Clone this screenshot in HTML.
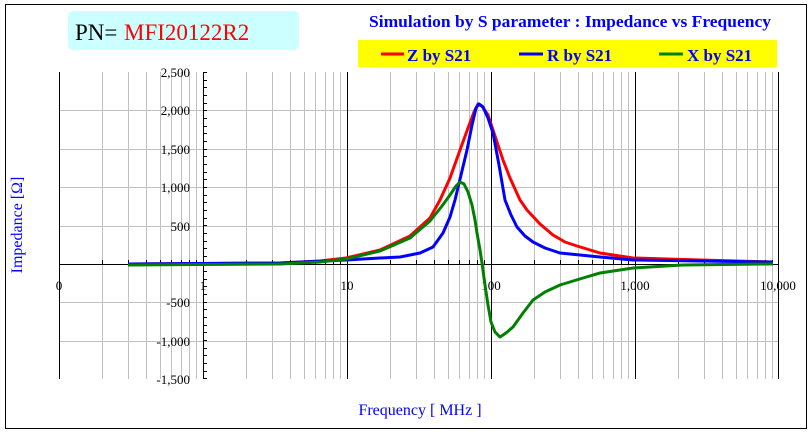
<!DOCTYPE html>
<html><head><meta charset="utf-8"><style>
body{margin:0;background:#fff;}
svg{display:block;font-family:"Liberation Serif",serif;}
</style></head><body>
<svg width="811" height="432" viewBox="0 0 811 432" xmlns="http://www.w3.org/2000/svg">
<rect x="5.5" y="4.5" width="801" height="424" fill="#fff" stroke="#000" stroke-width="1"/>
<rect x="68" y="11" width="231" height="39" rx="5" fill="#ccffff"/>
<text x="75" y="40" font-size="23" fill="#000">PN=</text>
<text x="124" y="40" font-size="23" fill="#ff0000">MFI20122R2</text>
<text x="570" y="27" font-size="17" font-weight="bold" fill="#0000ff" text-anchor="middle" textLength="402" lengthAdjust="spacingAndGlyphs">Simulation by S parameter : Impedance vs Frequency</text>
<rect x="358" y="40" width="419" height="27" fill="#ffff00"/>
<line x1="381" y1="54" x2="404" y2="54" stroke="#f00" stroke-width="3"/>
<text x="407" y="61" font-size="17" font-weight="bold" fill="#0000ff">Z by S21</text>
<line x1="519" y1="54" x2="543" y2="54" stroke="#00f" stroke-width="3"/>
<text x="547" y="61" font-size="17" font-weight="bold" fill="#0000ff">R by S21</text>
<line x1="659" y1="54" x2="683" y2="54" stroke="#008000" stroke-width="3"/>
<text x="687" y="61" font-size="17" font-weight="bold" fill="#0000ff">X by S21</text>
<g stroke="#c0c0c0" stroke-width="1">
<path d="M59,110.5H779M59,149.5H779M59,187.5H779M59,226.5H779M59,302.5H779M59,341.5H779" />
</g>
<g id="minors" stroke="#c0c0c0"></g>
<g stroke="#000" stroke-width="1">
<path d="M59.5,72V379M347.5,72V379M491.5,72V379M635.5,72V379M778.5,72V379M203.5,72V379M59,264.5H779"/>
</g>
<g id="ticks" stroke="#000"></g>
<g font-size="13" fill="#000" text-anchor="end">
<text x="190" y="77">2,500</text><text x="190" y="115">2,000</text><text x="190" y="154">1,500</text><text x="190" y="192">1,000</text><text x="190" y="231">500</text><text x="190" y="307">-500</text><text x="190" y="346">-1,000</text><text x="190" y="384">-1,500</text>
</g>
<g font-size="13" fill="#000" text-anchor="middle">
<text x="59" y="290">0</text><text x="203" y="290">1</text><text x="347" y="290">10</text><text x="491" y="290">100</text><text x="635" y="290">1,000</text><text x="778" y="290">10,000</text>
</g>
<text x="420" y="415" font-size="16" fill="#0000ff" text-anchor="middle">Frequency [ MHz ]</text>
<text transform="translate(22,225) rotate(-90)" font-size="16" fill="#0000ff" text-anchor="middle">Impedance [Ω]</text>
<g fill="none" stroke-width="3" stroke-linejoin="round">
<polyline stroke="#f00" points="128,264 280,263 320,261 346,258 380,250 410,236 430,218 440,200 450,178 460,150 468,128 474,112 478,104 482,106 488,115 493,130 498,145 503,160 510,178 520,200 527,210 540,224 553,235 565,242 577,246 600,253 633,258 700,260 773,262"/>
<polyline stroke="#00f" points="128,264 280,263 346,260 380,258 400,257 420,253 433,247 443,233 450,217 455,200 461,175 467,150 472,125 476,108 479,104 483,107 488,118 493,133 499,165 505,200 511,215 517,227 525,236 533,242 545,248 560,253 600,257 633,260 700,261 773,262"/>
<polyline stroke="#008000" points="128,265 280,264 320,262 346,259 380,251 410,238 430,221 442,206 450,195 456,186 460,182 464,184 468,192 472,205 475,220 477,233 480,250 482,263 485,285 488,305 491,322 495,332 500,337 506,333 513,327 523,313 533,300 545,292 560,285 583,278 600,273 633,268 683,265 767,264 773,264"/>
</g>
</svg>
<script>
(function(){
var ns="http://www.w3.org/2000/svg",g=document.getElementById("minors"),t=document.getElementById("ticks");
var d="",td="";
for(var dec=0;dec<5;dec++){for(var k=2;k<=9;k++){var x=Math.round(59+144*dec+144*Math.log10(k))+0.5;d+="M"+x+",72V379";td+="M"+x+",260V264";}}
var p=document.createElementNS(ns,"path");p.setAttribute("d",d);g.appendChild(p);
for(var v=72;v<=379;v+=7.66){td+="M203,"+(Math.round(v)+0.5)+"H207";}
var q=document.createElementNS(ns,"path");q.setAttribute("d",td);t.appendChild(q);
})();
</script>
</body></html>
